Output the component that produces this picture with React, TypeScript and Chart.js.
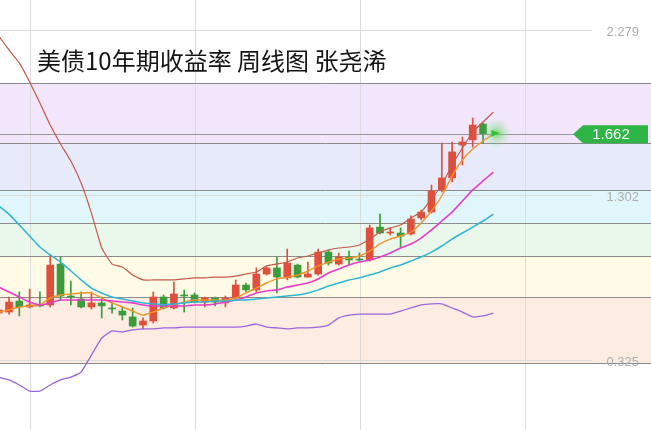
import React, { useEffect, useRef } from "react";
import { Chart, registerables } from "chart.js";
Chart.register(...registerables);

// ---- data (weekly US 10Y yield, %) ----
const candleOpen = [0.603, 0.609, 0.674, 0.639, 0.651, 0.651, 0.893, 0.704, 0.686, 0.639, 0.663, 0.633, 0.615, 0.580, 0.532, 0.556, 0.698, 0.633, 0.710, 0.710, 0.668, 0.692, 0.663, 0.692, 0.769, 0.740, 0.834, 0.870, 0.811, 0.887, 0.816, 0.834, 0.964, 0.893, 0.935, 0.923, 0.917, 1.112, 1.077, 1.077, 1.071, 1.166, 1.201, 1.332, 1.403, 1.598, 1.628, 1.722];
const candleHigh = [0.627, 0.698, 0.728, 0.745, 0.728, 0.947, 0.935, 0.793, 0.728, 0.728, 0.698, 0.663, 0.639, 0.633, 0.574, 0.728, 0.710, 0.787, 0.740, 0.722, 0.698, 0.698, 0.704, 0.799, 0.781, 0.870, 0.876, 0.935, 0.982, 0.893, 0.905, 0.982, 0.976, 0.959, 0.970, 0.959, 1.124, 1.189, 1.107, 1.107, 1.178, 1.213, 1.361, 1.610, 1.616, 1.645, 1.758, 1.728];
const candleLow = [0.597, 0.597, 0.586, 0.633, 0.639, 0.639, 0.680, 0.651, 0.633, 0.627, 0.574, 0.603, 0.562, 0.520, 0.509, 0.544, 0.627, 0.627, 0.609, 0.663, 0.639, 0.645, 0.639, 0.686, 0.728, 0.728, 0.828, 0.722, 0.799, 0.811, 0.816, 0.828, 0.887, 0.887, 0.887, 0.911, 0.911, 1.071, 1.065, 0.994, 1.065, 1.154, 1.195, 1.320, 1.379, 1.480, 1.586, 1.610];
const candleClose = [0.621, 0.668, 0.639, 0.651, 0.645, 0.887, 0.704, 0.698, 0.639, 0.663, 0.645, 0.627, 0.591, 0.526, 0.556, 0.698, 0.633, 0.716, 0.704, 0.668, 0.692, 0.668, 0.692, 0.769, 0.740, 0.834, 0.870, 0.816, 0.899, 0.816, 0.834, 0.964, 0.899, 0.935, 0.917, 0.917, 1.107, 1.077, 1.083, 1.059, 1.160, 1.201, 1.326, 1.403, 1.557, 1.616, 1.716, 1.665];

const upperBand = [2.243, 2.161, 2.084, 1.971, 1.847, 1.716, 1.604, 1.503, 1.373, 1.195, 0.988, 0.893, 0.876, 0.828, 0.799, 0.799, 0.799, 0.799, 0.805, 0.811, 0.811, 0.816, 0.816, 0.822, 0.834, 0.846, 0.882, 0.893, 0.905, 0.929, 0.941, 0.959, 0.976, 0.988, 0.994, 1.006, 1.041, 1.083, 1.107, 1.124, 1.166, 1.201, 1.278, 1.361, 1.480, 1.580, 1.675, 1.734, 1.793];
const lowerBand = [0.224, 0.207, 0.177, 0.141, 0.141, 0.177, 0.207, 0.224, 0.254, 0.354, 0.455, 0.497, 0.491, 0.503, 0.509, 0.509, 0.515, 0.515, 0.520, 0.520, 0.520, 0.520, 0.520, 0.520, 0.526, 0.538, 0.520, 0.515, 0.509, 0.515, 0.515, 0.520, 0.532, 0.574, 0.591, 0.597, 0.597, 0.597, 0.597, 0.615, 0.633, 0.651, 0.657, 0.657, 0.633, 0.609, 0.580, 0.586, 0.603];
const maShort = [0.609, 0.621, 0.639, 0.645, 0.651, 0.692, 0.710, 0.716, 0.722, 0.722, 0.692, 0.663, 0.639, 0.615, 0.591, 0.609, 0.633, 0.651, 0.668, 0.680, 0.680, 0.680, 0.680, 0.692, 0.722, 0.751, 0.781, 0.805, 0.816, 0.828, 0.852, 0.882, 0.905, 0.923, 0.929, 0.941, 0.970, 1.012, 1.041, 1.059, 1.083, 1.136, 1.207, 1.296, 1.415, 1.509, 1.574, 1.622, 1.663];
const maMid = [0.757, 0.728, 0.698, 0.668, 0.651, 0.663, 0.680, 0.680, 0.680, 0.680, 0.680, 0.674, 0.668, 0.663, 0.651, 0.645, 0.645, 0.645, 0.645, 0.651, 0.651, 0.657, 0.668, 0.680, 0.698, 0.722, 0.734, 0.740, 0.757, 0.769, 0.781, 0.805, 0.840, 0.864, 0.887, 0.905, 0.917, 0.935, 0.959, 0.988, 1.012, 1.047, 1.095, 1.148, 1.201, 1.266, 1.332, 1.385, 1.438];
const maLong = [1.237, 1.189, 1.124, 1.059, 0.994, 0.947, 0.905, 0.852, 0.799, 0.751, 0.722, 0.698, 0.686, 0.674, 0.663, 0.657, 0.651, 0.657, 0.663, 0.668, 0.668, 0.674, 0.674, 0.680, 0.680, 0.686, 0.692, 0.698, 0.704, 0.710, 0.722, 0.740, 0.763, 0.781, 0.799, 0.811, 0.828, 0.846, 0.870, 0.887, 0.911, 0.935, 0.964, 1.000, 1.041, 1.077, 1.112, 1.148, 1.189];

const bandEdges = [1.965, 1.61, 1.332, 1.136, 0.941, 0.698, 0.307];
const bandColors = ["#f1e6fb", "#e6eafb", "#e1f6fa", "#e9f8ea", "#fffbe7", "#fdece2"];
const priceLevel = 1.662;
const priceLabel = "1.662";
const gridLevels = [2.279, 1.302, 0.325];
const gridLabels = ["2.279", "1.302", "0.325"];
const timeGrid = [3.04, 19.05, 35.06, 51.07];
const titleText = "美债10年期收益率 周线图 张尧浠";

const X_MIN = 0.126;
const X_MAX = 63.3;
const Y_MIN = -0.0895;
const Y_MAX = 2.4566;

const RED = "#e04e3c";
const GREEN = "#3a9c3a";

export default function App() {
  const ref = useRef<HTMLCanvasElement>(null);

  useEffect(() => {
    if (!ref.current) return;
    const up = candleClose.map((c, i) => c >= candleOpen[i]);
    const colors = up.map((u) => (u ? RED : GREEN));

    const bgPlugin = {
      id: "bg",
      beforeDatasetsDraw(chart: any) {
        const { ctx, scales, width, height } = chart;
        const y = scales.y;
        const x = scales.x;
        ctx.save();
        for (let i = 0; i < bandColors.length; i++) {
          const y0 = Math.round(y.getPixelForValue(bandEdges[i]));
          const y1 = Math.round(y.getPixelForValue(bandEdges[i + 1]));
          ctx.fillStyle = bandColors[i];
          ctx.fillRect(0, y0, width, y1 - y0);
        }
        ctx.strokeStyle = "#dcdcdc";
        ctx.lineWidth = 1;
        for (const t of timeGrid) {
          const px = Math.round(x.getPixelForValue(t)) + 0.5;
          ctx.beginPath();
          ctx.moveTo(px, 0);
          ctx.lineTo(px, height);
          ctx.stroke();
        }
        for (const g of gridLevels) {
          const py = Math.round(y.getPixelForValue(g)) + 0.5;
          ctx.beginPath();
          ctx.moveTo(0, py);
          ctx.lineTo(592, py);
          ctx.stroke();
        }
        ctx.strokeStyle = "#8c8c8c";
        for (const e of bandEdges) {
          const py = Math.round(y.getPixelForValue(e)) + 0.5;
          ctx.beginPath();
          ctx.moveTo(0, py);
          ctx.lineTo(width, py);
          ctx.stroke();
        }
        const pp = Math.round(y.getPixelForValue(priceLevel)) + 0.5;
        ctx.strokeStyle = "#9a9a9a";
        ctx.beginPath();
        ctx.moveTo(0, pp);
        ctx.lineTo(580, pp);
        ctx.stroke();
        ctx.restore();
      },
      afterDraw(chart: any) {
        const { ctx, scales } = chart;
        const y = scales.y;
        const x = scales.x;
        ctx.save();
        ctx.fillStyle = "#141414";
        ctx.font = '24px "Noto Sans CJK SC", "Noto Sans", sans-serif';
        ctx.textBaseline = "middle";
        ctx.textAlign = "left";
        ctx.fillText(titleText, 37, 61);
        ctx.font = '13px "Liberation Sans", Arial, sans-serif';
        ctx.fillStyle = "#adadad";
        ctx.textAlign = "right";
        gridLevels.forEach((g, i) => {
          ctx.fillText(gridLabels[i], 639, y.getPixelForValue(g) + 2);
        });
        const gx = x.getPixelForValue(48.3);
        const gy = y.getPixelForValue(priceLevel) - 1;
        const grad = ctx.createRadialGradient(gx, gy, 0, gx, gy, 15);
        grad.addColorStop(0, "rgba(70,210,70,0.7)");
        grad.addColorStop(0.5, "rgba(90,220,90,0.28)");
        grad.addColorStop(1, "rgba(120,230,120,0)");
        ctx.fillStyle = grad;
        ctx.beginPath();
        ctx.arc(gx, gy, 15, 0, Math.PI * 2);
        ctx.fill();
        ctx.fillStyle = "#34c234";
        ctx.beginPath();
        ctx.moveTo(gx - 5, gy - 3.5);
        ctx.lineTo(gx + 3, gy);
        ctx.lineTo(gx - 5, gy + 3.5);
        ctx.closePath();
        ctx.fill();
        const py = y.getPixelForValue(priceLevel);
        ctx.fillStyle = "#2fb446";
        ctx.beginPath();
        ctx.moveTo(573, py);
        ctx.lineTo(583, py - 9);
        ctx.lineTo(648, py - 9);
        ctx.lineTo(648, py + 9);
        ctx.lineTo(583, py + 9);
        ctx.closePath();
        ctx.fill();
        ctx.fillStyle = "#ffffff";
        ctx.font = '15px "Liberation Sans", Arial, sans-serif';
        ctx.textAlign = "center";
        ctx.fillText(priceLabel, 611, py + 1);
        ctx.restore();
      },
    };

    const lineDs = (data: number[], color: string, w: number) => ({
      type: "line" as const,
      data: data.map((v, i) => ({ x: i, y: v })),
      borderColor: color,
      borderWidth: w,
      pointRadius: 0,
      tension: 0.12,
      fill: false,
      order: 0,
    });

    const chart = new Chart(ref.current, {
      type: "bar",
      data: {
        datasets: [
          {
            type: "bar",
            data: candleOpen.map((_, i) => ({ x: i, y: [candleLow[i], candleHigh[i]] })) as any,
            backgroundColor: colors,
            barThickness: 1,
            grouped: false,
            order: 2,
          } as any,
          {
            type: "bar",
            data: candleOpen.map((o, i) => ({ x: i, y: [o, candleClose[i]] })) as any,
            backgroundColor: colors,
            barThickness: 7,
            minBarLength: 1,
            grouped: false,
            order: 1,
          } as any,
          lineDs(upperBand, "#c8584a", 1.2),
          lineDs(lowerBand, "#9a66dc", 1.3),
          lineDs(maLong, "#2fb5d3", 1.5),
          lineDs(maMid, "#e63cc8", 1.6),
          lineDs(maShort, "#f0932c", 1.4),
        ],
      },
      options: {
        responsive: false,
        animation: false,
        layout: { padding: 0 },
        plugins: { legend: { display: false }, tooltip: { enabled: false }, title: { display: false } },
        scales: {
          x: { type: "linear", min: X_MIN, max: X_MAX, display: false, offset: false },
          y: { type: "linear", min: Y_MIN, max: Y_MAX, display: false },
        },
      },
      plugins: [bgPlugin],
    });
    return () => chart.destroy();
  }, []);

  return (
    <div style={{ position: "fixed", left: 0, top: 0, width: 651, height: 430, background: "#fff" }}>
      <canvas ref={ref} width={651} height={430} style={{ display: "block" }} />
    </div>
  );
}
